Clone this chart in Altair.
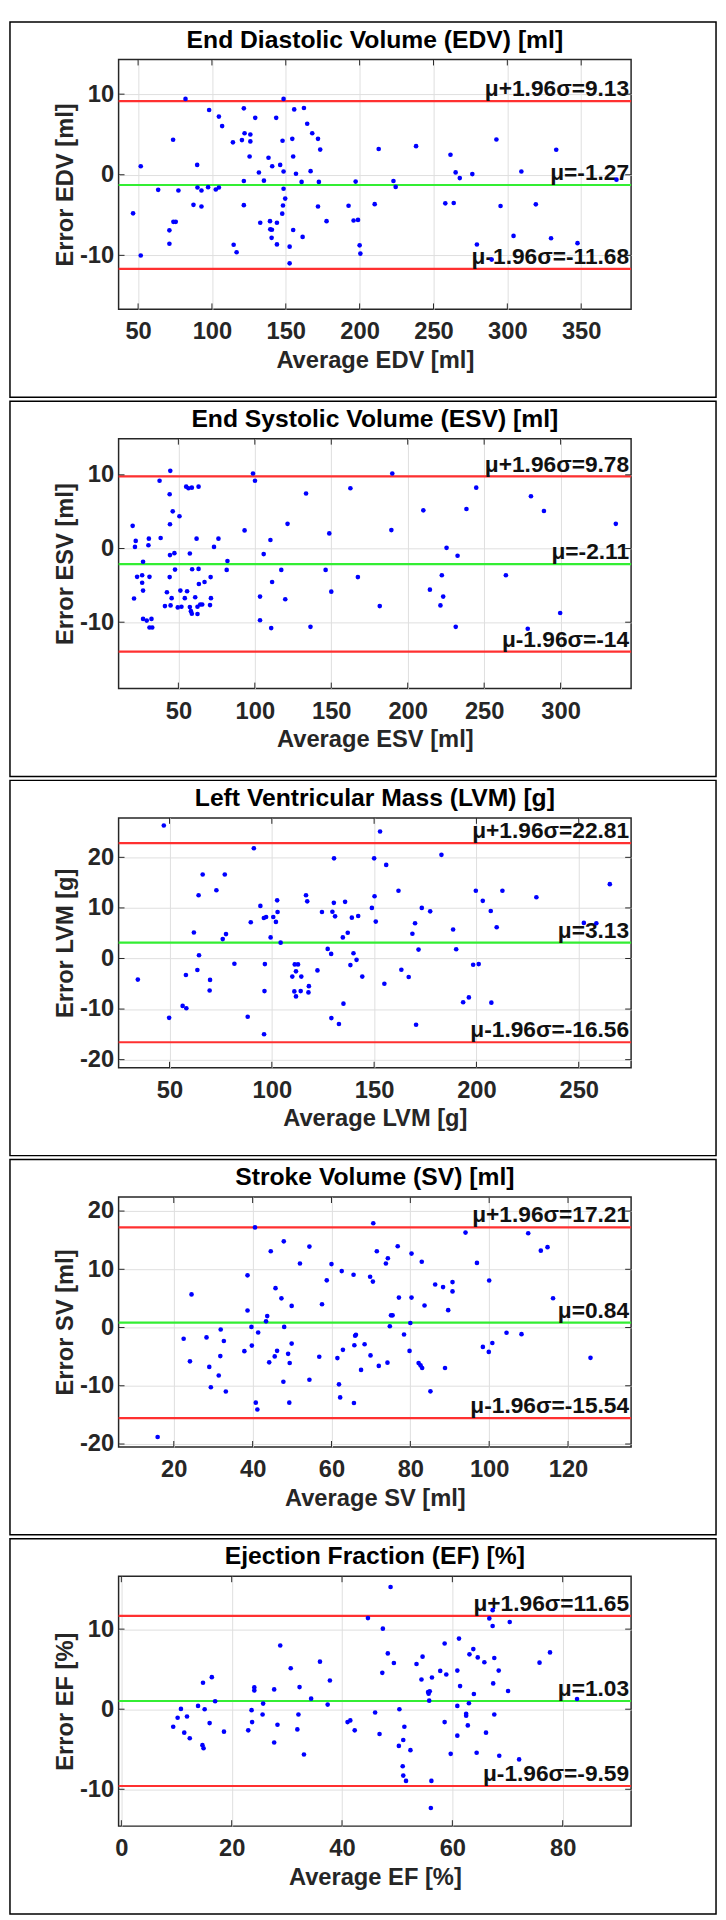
import altair as alt
import pandas as pd

# ---------------- data ----------------
titles = ["End Diastolic Volume (EDV) [ml]", "End Systolic Volume (ESV) [ml]",
          "Left Ventricular Mass (LVM) [g]", "Stroke Volume (SV) [ml]",
          "Ejection Fraction (EF) [%]"]
x_titles = ["Average EDV [ml]", "Average ESV [ml]", "Average LVM [g]",
            "Average SV [ml]", "Average EF [%]"]
y_titles = ["Error EDV [ml]", "Error ESV [ml]", "Error LVM [g]",
            "Error SV [ml]", "Error EF [%]"]

means = [-1.27, -2.11, 3.13, 0.84, 1.03]
uppers = [9.13, 9.78, 22.81, 17.21, 11.65]
lowers = [-11.68, -14, -16.56, -15.54, -9.59]

x_domains = [[36.8, 383.8], [10.9, 346.1], [25.1, 275.6], [6.0, 136.0], [-0.5, 92.4]]
y_domains = [[-16.7, 14.3], [-19.0, 14.9], [-21.6, 27.8], [-20.5, 22.4], [-14.6, 16.6]]
x_ticks = [[50, 100, 150, 200, 250, 300, 350], [50, 100, 150, 200, 250, 300],
           [50, 100, 150, 200, 250], [20, 40, 60, 80, 100, 120], [0, 20, 40, 60, 80]]
y_ticks = [[-10, 0, 10], [-10, 0, 10], [-20, -10, 0, 10, 20],
           [-20, -10, 0, 10, 20], [-10, 0, 10]]

edv = [(82.1, 9.41), (148.5, 9.41), (98.1, 8.03), (121.6, 8.24), (155.7, 8.11), (162.3, 8.28),
       (104.7, 7.22), (106.9, 6.04), (129.3, 7.06), (143.5, 7.06), (164.5, 6.33), (167.9, 5.15),
       (171.8, 4.46), (173.3, 3.12), (73.7, 4.34), (114.2, 4.02), (120.3, 4.30), (122.1, 5.15),
       (126.0, 4.99), (126.0, 4.14), (147.8, 4.22), (154.4, 4.46), (125.5, 2.27), (138.3, 2.11),
       (140.8, 1.05), (146.2, 1.22), (155.0, 2.27), (51.8, 1.05), (90.0, 1.22), (131.8, 0.28),
       (148.5, 0.41), (156.9, 0.12), (166.8, 0.45), (135.2, -0.73), (121.6, -0.77), (160.7, -0.89),
       (172.4, -0.89), (197.3, -0.85), (212.9, 3.2), (63.6, -1.87), (77.3, -1.95), (90.2, -1.58),
       (92.9, -1.95), (97.4, -1.54), (102.6, -1.83), (104.7, -1.58), (148.5, -1.74), (149.6, -2.96),
       (148.1, -3.81), (147.6, -4.83), (121.6, -3.77), (87.5, -3.73), (92.9, -3.94), (171.8, -3.94),
       (192.5, -3.85), (210.2, -3.65), (46.6, -4.79), (73.9, -5.84), (75.5, -5.84), (71.2, -6.90),
       (71.2, -8.56), (51.8, -10.02), (132.7, -5.96), (139.3, -5.76), (139.5, -6.77), (140.6, -6.82),
       (144.0, -5.96), (140.4, -7.83), (144.0, -8.64), (155.0, -6.86), (161.4, -7.71), (114.7, -8.68),
       (116.7, -9.61), (152.6, -8.92), (152.6, -10.99), (177.6, -5.76), (195.9, -5.68), (198.9, -5.60),
       (200.0, -8.76), (200.5, -9.78), (222.9, -0.78), (224.4, -1.51), (238.2, 3.55), (258.0, -3.55),
       (261.5, 2.49), (263.7, -3.51), (265.0, 0.29), (267.8, -0.41), (276.3, 0.08), (279.4, -8.65),
       (289.4, -10.53), (292.6, 4.37), (295.4, -3.88), (304.2, -7.59), (309.5, 0.41), (319.3, -3.67),
       (329.6, -7.88), (333.1, 3.10), (347.5, -8.49), (373.9, -0.61)]

esv = [(44.7, 10.54), (37.7, 9.20), (44.3, 7.37), (98.8, 10.18), (100.1, 9.20), (55.1, 8.39),
       (56.6, 8.17), (58.8, 8.26), (63.2, 8.39), (133.5, 7.46), (162.5, 8.17), (46.3, 5.04),
       (50.7, 4.38), (44.5, 3.30), (20.1, 3.08), (38.4, 1.43), (30.7, 1.34), (22.1, 1.03),
       (21.6, 0.22), (30.4, 0.45), (61.9, 1.34), (76.2, 1.34), (73.3, 0.22), (93.3, 2.46),
       (121.4, 3.35), (110.2, 1.16), (105.8, -0.76), (148.7, 2.05), (44.5, -0.89), (47.4, -0.63),
       (57.5, -0.67), (26.9, -1.79), (82.1, -1.70), (81.6, -2.90), (47.8, -2.86), (59.0, -2.81),
       (63.2, -2.77), (23.0, -3.84), (26.3, -3.62), (26.3, -4.64), (31.1, -3.84), (44.3, -3.88),
       (26.9, -5.71), (21.0, -6.79), (71.1, -3.88), (67.1, -4.55), (63.4, -4.82), (42.5, -5.94),
       (45.6, -6.74), (51.3, -5.71), (55.7, -5.80), (54.2, -6.74), (61.0, -6.61), (71.3, -6.74),
       (41.2, -7.81), (44.9, -7.72), (49.6, -7.99), (52.0, -7.90), (57.5, -7.95), (58.2, -8.50),
       (58.8, -8.85), (62.5, -8.88), (62.5, -7.90), (64.3, -7.59), (65.6, -7.59), (70.7, -7.68),
       (26.9, -9.55), (29.3, -9.78), (32.4, -9.55), (31.1, -10.71), (32.9, -10.71), (103.4, -6.52),
       (111.3, -4.55), (117.3, -2.90), (119.9, -6.88), (146.3, -2.90), (150.0, -5.85), (103.4, -9.73),
       (110.7, -10.80), (136.4, -10.63), (167.4, -3.88), (181.7, -7.81), (189.9, 10.18), (189.3, 2.50),
       (210.2, 5.18), (214.5, -5.58), (221.4, -7.72), (222.3, -3.62), (223.2, -6.52), (225.4, 0.09),
       (231.4, -10.63), (232.6, -0.98), (238.4, 5.36), (244.8, 8.26), (264.2, -3.62), (278.5, -10.89),
       (280.6, 7.10), (289.1, 5.09), (299.7, -8.75), (336.1, 3.35)]

lvm = [(47.2, 26.3), (91.2, 21.8), (152.9, 25.1), (130.4, 19.8), (150.0, 19.8), (155.9, 18.5),
       (66.2, 16.6), (77.0, 16.6), (72.9, 13.5), (64.2, 12.5), (116.7, 12.5), (117.3, 11.3),
       (94.4, 10.4), (102.6, 11.5), (135.8, 11.2), (130.3, 11.0), (150.2, 12.3), (148.9, 10.0),
       (102.8, 9.19), (124.5, 9.19), (129.6, 9.25), (130.9, 8.34), (139.1, 8.08), (142.2, 8.40),
       (96.1, 8.01), (97.2, 8.21), (100.7, 8.21), (102.0, 7.23), (89.7, 7.17), (150.8, 7.30),
       (61.9, 5.15), (77.6, 4.82), (76.0, 3.84), (99.4, 4.17), (104.3, 3.13), (137.1, 5.08),
       (134.7, 4.17), (127.3, 1.89), (129.0, 0.91), (139.9, 1.04), (141.4, -0.26), (138.4, -1.30),
       (64.4, 0.65), (63.6, -2.28), (81.7, -1.04), (96.6, -1.11), (111.2, -1.17), (112.8, -1.17),
       (111.8, -2.54), (110.0, -3.58), (114.4, -3.58), (122.3, -2.35), (34.5, -4.17), (58.0, -3.26),
       (69.8, -4.23), (69.6, -6.32), (144.2, -3.58), (155.0, -5.0), (118.1, -5.47), (117.9, -6.71),
       (96.4, -6.45), (111.0, -6.51), (111.8, -7.49), (114.1, -6.45), (56.4, -9.38), (58.2, -9.84),
       (49.8, -11.73), (88.2, -11.53), (96.2, -14.98), (129.1, -11.79), (132.8, -12.96), (135.0, -8.93),
       (182.9, 20.5), (161.9, 13.4), (199.7, 13.4), (212.7, 13.4), (229.3, 12.1), (265.2, 14.7),
       (203.1, 11.4), (173.3, 10.0), (177.4, 9.32), (207.0, 9.38), (170.0, 6.97), (168.7, 4.89),
       (188.6, 5.73), (209.9, 6.19), (252.5, 7.04), (258.6, 6.97), (171.7, 1.76), (190.1, 1.82),
       (198.4, -1.24), (201.1, -1.11), (163.3, -2.22), (166.9, -3.65), (193.5, -8.66), (196.3, -7.69),
       (207.3, -8.73), (170.5, -13.1)]

sv = [(15.9, -18.8), (40.6, 17.2), (70.6, 17.9), (47.9, 14.8), (54.4, 13.9), (44.6, 13.1),
      (71.5, 13.1), (74.3, 11.9), (73.8, 11.0), (52.0, 11.0), (60.0, 10.9), (62.6, 9.69),
      (65.6, 9.07), (69.8, 8.73), (70.5, 7.89), (38.7, 8.96), (58.8, 8.11), (45.8, 6.76),
      (24.5, 5.69), (47.3, 5.01), (57.6, 4.0), (49.9, 3.72), (38.7, 2.93), (43.7, 1.97),
      (43.4, 1.07), (31.9, -0.34), (39.7, 0.11), (48.0, 0.11), (41.4, -0.85), (22.5, -1.92),
      (28.3, -1.69), (32.7, -2.31), (39.8, -3.10), (49.9, -2.76), (37.9, -4.06), (46.2, -4.0),
      (45.6, -4.96), (49.0, -4.51), (49.4, -6.08), (44.2, -5.97), (31.8, -4.90), (24.1, -5.80),
      (29.0, -6.76), (31.4, -8.23), (29.4, -10.25), (33.2, -10.99), (47.8, -9.30), (54.4, -8.96),
      (40.8, -12.90), (41.2, -14.08), (49.3, -12.90), (56.9, -5.01), (61.5, -5.24), (62.9, -3.83),
      (65.8, -3.04), (66.2, -1.24), (66.0, -1.41), (68.4, -2.87), (69.9, -4.79), (67.5, -7.27),
      (72.0, -6.59), (74.2, -6.03), (61.9, -9.75), (62.2, -12.0), (65.7, -12.96),
      (76.8, 13.95), (80.3, 12.7), (82.9, 11.3), (94.0, 16.3), (109.9, 16.2), (113.1, 13.2),
      (114.8, 13.8), (96.9, 11.1), (100.0, 8.08), (86.3, 7.40), (88.3, 6.95), (90.7, 7.80),
      (90.7, 6.21), (77.1, 5.14), (80.3, 5.14), (83.6, 3.79), (89.6, 2.99), (116.2, 5.03),
      (75.1, 2.09), (75.5, 2.09), (74.8, 0.23), (80.0, 0.79), (78.4, -1.19), (79.8, -4.01),
      (82.1, -6.10), (82.6, -6.5), (83.0, -6.95), (88.8, -6.95), (85.1, -10.96), (98.4, -3.33),
      (99.9, -4.18), (100.8, -2.66), (104.4, -0.90), (108.2, -1.13), (125.7, -5.20)]

ef = [(9.4, -2.19), (10.2, -1.07), (10.8, 0.04), (11.4, -2.93), (11.9, -0.91), (12.4, -3.63),
      (13.9, 0.41), (14.7, -4.49), (14.9, -4.87), (14.8, 3.30), (15.1, 0.0), (16.0, -1.73),
      (16.4, 4.0), (17.0, 0.99), (18.6, -2.80), (23.0, -2.64), (23.6, -0.12), (23.7, -1.61),
      (24.1, 2.72), (24.1, 2.35), (25.6, -0.66), (25.7, 0.70), (27.7, 2.47), (27.7, -4.16),
      (28.3, -1.94), (28.8, 7.96), (30.7, 5.11), (31.9, -2.52), (32.1, -0.66), (32.3, 2.76),
      (33.1, -5.65), (34.4, 1.32), (36.0, 5.94), (37.4, 0.58), (37.8, 3.59), (41.0, -1.61),
      (41.5, -1.40), (42.3, -2.64), (48.8, 15.26), (44.7, 11.38), (47.4, 10.06), (48.3, 6.97),
      (49.4, 5.77), (47.3, 4.54), (46.0, -0.41), (46.8, -3.09), (50.4, 0.0), (51.3, -2.19),
      (51.1, -3.84), (50.3, -4.58), (52.4, -5.11), (51.0, -7.13), (51.1, -8.29), (51.6, -8.95),
      (56.2, -8.95), (56.1, -12.33), (53.5, 5.65), (54.6, 6.56), (54.4, 3.71), (56.3, 3.96),
      (57.8, 4.78), (58.9, 4.33), (58.6, 8.21), (55.6, 2.14), (55.9, 2.23), (55.7, 1.94),
      (55.8, 1.07), (58.6, -1.61), (59.7, -5.57), (60.9, 4.82), (61.2, 8.82), (61.4, 2.89),
      (60.9, 0.41), (60.9, -3.30), (62.5, -0.58), (62.5, -0.82), (62.8, -2.02), (63.0, 0.74),
      (63.1, 6.85), (63.8, 7.51), (64.6, 6.47), (63.9, 1.90), (64.4, -5.44), (65.8, 5.86),
      (66.1, -2.93), (66.7, 11.34), (67.3, 12.37), (67.3, 10.39), (67.6, 6.39), (67.4, 3.22),
      (67.6, -0.66), (68.4, 4.82), (68.5, -5.81), (70.1, 2.27), (70.4, 10.89), (72.1, -6.27),
      (75.8, 5.81), (77.7, 7.09), (82.6, 1.28)]

series = [edv, esv, lvm, sv, ef]

# ---------------- style ----------------
W, H = 519, 253
FONT = "Liberation Sans"
FS_TITLE = 25
FS_AXIS = 24
FS_NOTE = 23
RED = "#ff3030"
GREEN = "#33ee33"
BLUE = "#0000ff"
DARK = "#262626"


def fmt(v):
    return "%g" % v


def panel(i):
    xs = alt.Scale(domain=x_domains[i], nice=False, zero=False)
    ys = alt.Scale(domain=y_domains[i], nice=False, zero=False)

    def X(**kw):
        return alt.X("avg:Q", scale=xs, title=x_titles[i], **kw)

    def Y(**kw):
        return alt.Y("err:Q", scale=ys, title=y_titles[i], **kw)

    pts_df = pd.DataFrame(series[i], columns=["avg", "err"])
    stat_df = pd.DataFrame({
        "err": [uppers[i], means[i], lowers[i]],
        "kind": ["upper", "mean", "lower"],
        "label": ["\u03bc+1.96\u03c3=" + fmt(uppers[i]),
                  "\u03bc=" + fmt(means[i]),
                  "\u03bc-1.96\u03c3=" + fmt(lowers[i])],
    })
    xt_df = pd.DataFrame({"avg": x_ticks[i]})
    yt_df = pd.DataFrame({"err": y_ticks[i]})
    title_df = pd.DataFrame({"t": [titles[i]]})

    ax_x = alt.Axis(values=x_ticks[i], grid=True, labelExpr="'' + datum.value",
                    labelFlush=False)
    ax_y = alt.Axis(values=y_ticks[i], grid=True, labelExpr="'' + datum.value")

    box = alt.Chart(title_df).mark_rect(
        fill="white", fillOpacity=0, stroke="black", strokeWidth=1.5
    ).encode(x=alt.value(-110), x2=alt.value(W + 86), y=alt.value(-38), y2=alt.value(H + 89))

    title = alt.Chart(title_df).mark_text(
        align="center", baseline="alphabetic", font=FONT, fontSize=FS_TITLE,
        fontWeight="bold", color="black"
    ).encode(x=alt.value(W / 2), y=alt.value(-12), text="t:N")

    rules = alt.Chart(stat_df).mark_rule(strokeWidth=2.2).encode(
        y=Y(),
        color=alt.Color("kind:N", scale=alt.Scale(domain=["upper", "mean", "lower"],
                                                  range=[RED, GREEN, RED]), legend=None),
    )
    labels = alt.Chart(stat_df).mark_text(
        align="right", baseline="alphabetic", dy=-5, font=FONT, fontSize=FS_NOTE,
        fontWeight="bold", color="#111111"
    ).encode(y=Y(), x=alt.value(W - 2), text="label:N")

    tick_style = dict(color=DARK, strokeWidth=1)
    xt_bottom = alt.Chart(xt_df).mark_rule(**tick_style).encode(
        x=X(), y=alt.value(H), y2=alt.value(H - 6))
    xt_top = alt.Chart(xt_df).mark_rule(**tick_style).encode(
        x=X(), y=alt.value(0), y2=alt.value(6))
    yt_left = alt.Chart(yt_df).mark_rule(**tick_style).encode(
        y=Y(), x=alt.value(0), x2=alt.value(6))
    yt_right = alt.Chart(yt_df).mark_rule(**tick_style).encode(
        y=Y(), x=alt.value(W), x2=alt.value(W - 6))

    pts = alt.Chart(pts_df).mark_circle(color=BLUE, opacity=1, size=22).encode(
        x=X(axis=ax_x), y=Y(axis=ax_y))

    return alt.layer(box, title, rules, labels, xt_bottom, xt_top, yt_left, yt_right,
                     pts).properties(width=W, height=H)


chart = alt.vconcat(*[panel(i) for i in range(5)], spacing=0).properties(
    padding=0, background="white"
).configure_view(
    stroke=DARK, strokeWidth=1.5
).configure_axis(
    labelFont=FONT, labelFontSize=FS_AXIS, labelFontWeight="bold", labelColor=DARK,
    titleFont=FONT, titleFontSize=FS_AXIS, titleFontWeight="bold", titleColor=DARK,
    gridColor="#dedede", gridWidth=1, domain=False, ticks=False, tickSize=0,
).configure_axisX(
    labelPadding=11, titlePadding=5
).configure_axisY(
    labelPadding=5, titlePadding=2
)

chart.save("out.html", embed_options={"renderer": "svg", "actions": False})
